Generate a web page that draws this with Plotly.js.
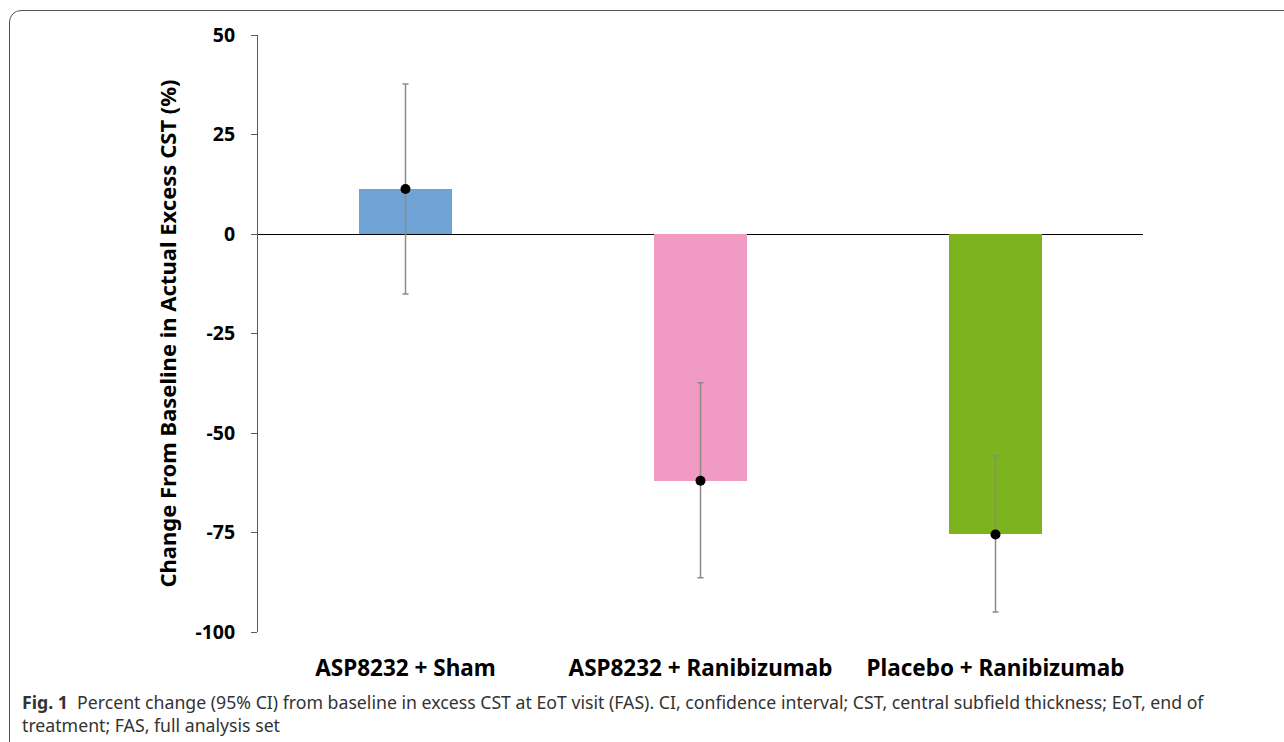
<!DOCTYPE html>
<html>
<head>
<meta charset="utf-8">
<script src="https://cdn.plot.ly/plotly-3.0.1.min.js"></script>
<style>
  html, body { margin: 0; padding: 0; background: #fff; }
  #wrap { position: relative; width: 1284px; height: 742px; overflow: hidden; }
  #frame { position: absolute; left: 9px; top: 10px; width: 1300px; height: 760px;
           border: 1px solid #555; border-top-left-radius: 12px; box-sizing: border-box; }
  #chart { position: absolute; left: 0; top: 0; width: 1284px; height: 742px; }
</style>
</head>
<body>
<div id="wrap">
  <div id="frame"></div>
  <div id="chart"></div>
</div>
<script>
// Treatment groups and percent change from baseline in excess CST (mean, 95% CI)
const groups = ['ASP8232 + Sham', 'ASP8232 + Ranibizumab', 'Placebo + Ranibizumab'];
const meanChange = [11.3, -62.0, -75.5];
const ciUpper = [37.7, -37.4, -55.8];
const ciLower = [-15.1, -86.4, -95.0];
const barColors = ['#70a3d5', '#f09ac4', '#7cb31f'];
const yTicks = [50, 25, 0, -25, -50, -75, -100];

const errPlus = meanChange.map((m, i) => ciUpper[i] - m);
const errMinus = meanChange.map((m, i) => m - ciLower[i]);

const bold = 'Noto Sans, Open Sans, sans-serif';

const bars = {
  type: 'bar',
  x: groups,
  y: meanChange,
  width: 0.315,
  marker: { color: barColors, line: { width: 0 } },
  hoverinfo: 'skip',
  showlegend: false
};

const points = {
  type: 'scatter',
  mode: 'markers',
  x: groups,
  y: meanChange,
  marker: { color: '#000', size: 10 },
  error_y: {
    type: 'data', symmetric: false,
    array: errPlus, arrayminus: errMinus,
    color: '#8a8a8a', thickness: 1.5, width: 3
  },
  showlegend: false
};

const layout = {
  width: 1284, height: 742,
  margin: { l: 258, r: 141, t: 35, b: 110 },
  paper_bgcolor: 'rgba(0,0,0,0)',
  plot_bgcolor: 'rgba(0,0,0,0)',
  font: { family: bold, color: '#000' },
  xaxis: {
    type: 'category',
    range: [-0.5, 2.5],
    showline: false, showgrid: false, ticks: '',
    tickfont: { family: bold, size: 22.5, weight: 'bold', color: '#000' },
    ticklabelstandoff: 20
  },
  yaxis: {
    range: [-100, 50],
    tickvals: yTicks,
    ticktext: yTicks.map(String),
    showgrid: false,
    showline: true, linecolor: '#595959', linewidth: 1,
    ticks: 'outside', ticklen: 6, tickcolor: '#595959',
    zeroline: true, zerolinecolor: '#000', zerolinewidth: 1,
    tickfont: { family: bold, size: 19.5, weight: 'bold', color: '#000' },
    ticklabelstandoff: 12,
    title: { text: 'Change From Baseline in Actual Excess CST (%)',
             font: { family: bold, size: 22, weight: 'bold', color: '#000' },
             standoff: 12 }
  },
  annotations: [
    {
      xref: 'paper', yref: 'paper', x: -0.2686, y: -0.094, xanchor: 'left', yanchor: 'top',
      align: 'left', showarrow: false,
      text: '<b>Fig. 1</b>  Percent change (95% CI) from baseline in excess CST at EoT visit (FAS). CI, confidence interval; CST, central subfield thickness; EoT, end of<br>treatment; FAS, full analysis set',
      font: { family: 'Noto Sans, sans-serif', size: 17.7, color: '#333' }
    }
  ],
  bargap: 0
};

Plotly.newPlot('chart', [bars, points], layout, { displayModeBar: false, staticPlot: true });
</script>
</body>
</html>
